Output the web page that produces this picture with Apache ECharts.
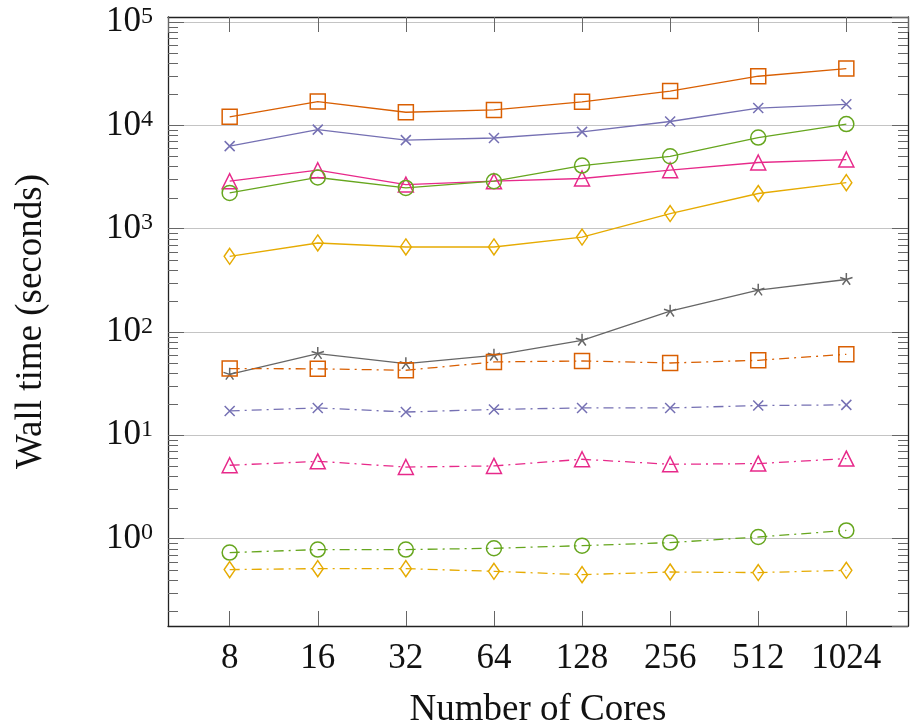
<!DOCTYPE html>
<html>
<head>
<meta charset="utf-8">
<script src="https://cdn.jsdelivr.net/npm/echarts@6/dist/echarts.min.js"></script>
<style>
html,body{margin:0;padding:0;background:#fff;}
#chart{width:912px;height:725px;}
</style>
</head>
<body>
<div id="chart"></div>
<script>
// ---- Data ----
const cores = [8, 16, 32, 64, 128, 256, 512, 1024];

// solid lines
const orangeSolid = [12100, 17000, 13400, 14100, 16900, 21500, 29900, 35500];
const purpleSolid = [6300, 9100, 7200, 7550, 8650, 10900, 14700, 16000];
const pinkSolid   = [2880, 3680, 2670, 2880, 3060, 3680, 4370, 4670];
const greenSolid  = [2220, 3130, 2480, 2880, 4080, 5020, 7620, 10300];
const yellowSolid = [540, 727, 665, 665, 830, 1400, 2190, 2790];
const graySolid   = [38.9, 61.8, 49.4, 59.5, 83.1, 159, 254, 322];

// dash-dotted lines
const orangeDash = [44.2, 44.0, 42.6, 51.3, 52.4, 50.1, 53.2, 60.8];
const purpleDash = [17.2, 18.4, 16.8, 17.8, 18.4, 18.4, 19.4, 19.7];
const pinkDash   = [5.13, 5.6, 4.93, 5.05, 5.86, 5.24, 5.32, 5.95];
const greenDash  = [0.732, 0.783, 0.783, 0.806, 0.855, 0.915, 1.036, 1.2];
const yellowDash = [0.501, 0.512, 0.512, 0.482, 0.448, 0.475, 0.469, 0.493];

// axis labels
const xTitle = 'Number of Cores';
const yTitle = 'Wall time (seconds)';
const yDecades = [-1, 0, 1, 2, 3, 4];       // for minor ticks
const minorMultipliers = [2, 3, 4, 5, 6, 7, 8, 9];

// ---- Styling ----
const C = {
  orange: '#d95f02', purple: '#7570b3', pink: '#e7298a',
  green: '#66a61e', yellow: '#e6ab02', gray: '#666666'
};
const FONT = '"Liberation Serif", "DejaVu Serif", serif';
const SYM_X = 'path://M0 0L10 10M10 0L0 10';
const SYM_STAR = 'path://M5 5L5 0M5 5L9.755 3.455M5 5L0.245 3.455M5 5L2.061 9.045M5 5L7.939 9.045M0 5L0 5M10 5L10 5M5 10L5 10';
const DASHDOT = [10, 5, 2, 5];

const xMin = Math.pow(2, 2.3), xMax = Math.pow(2, 10.7);
const yMin = Math.pow(10, -0.846), yMax = Math.pow(10, 5.049);

function mk(name, vals, color, symbol, size, dashed) {
  return {
    name: name, type: 'line',
    data: cores.map((c, i) => [c, vals[i]]),
    symbol: symbol, symbolSize: size, symbolKeepAspect: false,
    showSymbol: true,
    lineStyle: { color: color, width: 1.3, type: dashed ? DASHDOT : 'solid' },
    itemStyle: { color: 'rgba(255,255,255,0)', borderColor: color, borderWidth: 1.5 },
    emphasis: { disabled: true },
    silent: true,
    z: 3
  };
}

const minorData = [];
yDecades.forEach(d => minorMultipliers.forEach(m => {
  const v = m * Math.pow(10, d);
  if (v > yMin && v < yMax) minorData.push([cores[0], v]);
}));

function isIntPow(v, base) {
  const l = Math.log(v) / Math.log(base);
  return Math.abs(l - Math.round(l)) < 1e-6;
}

const axisLine = { show: true, lineStyle: { color: '#222', width: 1.3 } };
const tickStyle = { color: '#666', width: 1 };

const option = {
  animation: false,
  backgroundColor: '#fff',
  grid: { left: 168, top: 17, right: 4, bottom: 99, containLabel: false, outerBoundsMode: 'none' },
  xAxis: [{
    type: 'log', logBase: 2, min: xMin, max: xMax, position: 'bottom',
    axisLine: axisLine,
    axisTick: { show: true, inside: true, length: 15, lineStyle: tickStyle },
    splitLine: { show: false },
    axisLabel: {
      fontFamily: FONT, fontSize: 35, color: '#111', margin: 15,
      showMinLabel: false, showMaxLabel: false,
      formatter: v => isIntPow(v, 2) ? String(Math.round(v)) : ''
    },
    name: xTitle, nameLocation: 'middle', nameGap: 66,
    nameTextStyle: { fontFamily: FONT, fontSize: 37, color: '#111' }
  }, {
    type: 'log', logBase: 2, min: xMin, max: xMax, position: 'top',
    axisLine: axisLine,
    axisTick: { show: true, inside: true, length: 15, lineStyle: tickStyle },
    splitLine: { show: false },
    axisLabel: { show: false }
  }],
  yAxis: [{
    type: 'log', logBase: 10, min: yMin, max: yMax, position: 'left',
    axisLine: axisLine,
    axisTick: { show: true, inside: true, length: 16, lineStyle: tickStyle },
    splitLine: { show: true, lineStyle: { color: '#c4c4c4', width: 1 } },
    axisLabel: {
      margin: 15, color: '#111',
      showMinLabel: false, showMaxLabel: false,
      formatter: v => isIntPow(v, 10) ? '{b|10}{s|' + Math.round(Math.log10(v)) + '}' : '',
      rich: {
        b: { fontFamily: FONT, fontSize: 35, color: '#111', lineHeight: 35 },
        s: { fontFamily: FONT, fontSize: 24, color: '#111', verticalAlign: 'top', lineHeight: 22 }
      }
    },
    name: yTitle, nameLocation: 'middle', nameGap: 118, nameRotate: 90,
    nameTextStyle: { fontFamily: FONT, fontSize: 37, color: '#111' }
  }, {
    type: 'log', logBase: 10, min: yMin, max: yMax, position: 'right',
    axisLine: axisLine,
    axisTick: { show: true, inside: true, length: 16, lineStyle: tickStyle },
    splitLine: { show: false },
    axisLabel: { show: false }
  }],
  series: [
    {
      type: 'custom', name: 'minorTicks', silent: true, z: 1,
      xAxisIndex: 0, yAxisIndex: 0,
      data: minorData,
      renderItem: function (params, api) {
        const p = api.coord([api.value(0), api.value(1)]);
        const cs = params.coordSys;
        const y = Math.round(p[1]) + 0.5;
        return {
          type: 'group',
          children: [
            { type: 'line', shape: { x1: cs.x, y1: y, x2: cs.x + 10, y2: y }, style: { stroke: '#666', lineWidth: 1 } },
            { type: 'line', shape: { x1: cs.x + cs.width - 10, y1: y, x2: cs.x + cs.width, y2: y }, style: { stroke: '#666', lineWidth: 1 } }
          ]
        };
      }
    },
    mk('orange', orangeSolid, C.orange, 'rect', 15, false),
    mk('purple', purpleSolid, C.purple, SYM_X, 10, false),
    mk('pink', pinkSolid, C.pink, 'triangle', 15, false),
    mk('green', greenSolid, C.green, 'circle', 15, false),
    mk('yellow', yellowSolid, C.yellow, 'diamond', [11, 16], false),
    mk('gray', graySolid, C.gray, SYM_STAR, 13, false),
    mk('orange dashdot', orangeDash, C.orange, 'rect', 15, true),
    mk('purple dashdot', purpleDash, C.purple, SYM_X, 10, true),
    mk('pink dashdot', pinkDash, C.pink, 'triangle', 15, true),
    mk('green dashdot', greenDash, C.green, 'circle', 15, true),
    mk('yellow dashdot', yellowDash, C.yellow, 'diamond', [11, 16], true)
  ]
};

const chart = echarts.init(document.getElementById('chart'), null, { renderer: 'canvas' });
chart.setOption(option);
</script>
</body>
</html>
